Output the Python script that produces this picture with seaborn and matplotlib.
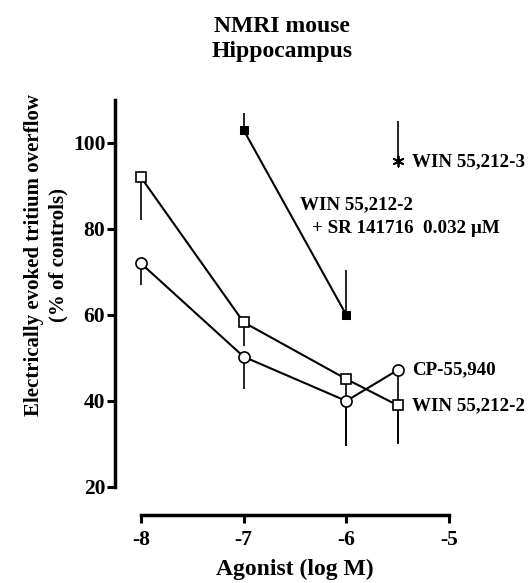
import matplotlib
matplotlib.use("Agg")
import matplotlib.pyplot as plt
import seaborn as sns
import pandas as pd

sns.set_theme(style="white")
plt.rcParams['font.family'] = ['Liberation Serif', 'DejaVu Serif']
plt.rcParams['font.weight'] = 'bold'
for k in ['text.color', 'axes.labelcolor', 'xtick.color', 'ytick.color']:
    plt.rcParams[k] = 'black'

# Data
x_win = [-8, -7, -6, -5.5]
y_win = [92, 58.3, 45.1, 39]
err_win = [10, 5.5, 15.5, 9]          # downward

x_cp = [-8, -7, -6, -5.5]
y_cp = [72, 50.3, 40, 47.2]
err_cp = [5, 7.5, 10.5, 17]           # downward

x_sr = [-7, -6]
y_sr = [103, 60]
err_sr = [4, 10.5]                    # upward

x_w3 = [-5.5]
y_w3 = [95.7]
err_w3 = [9.5]                        # upward

xticks = [-8, -7, -6, -5]
yticks = [20, 40, 60, 80, 100]

df = pd.concat([
    pd.DataFrame({'x': x_win, 'y': y_win, 'series': 'WIN 55,212-2'}),
    pd.DataFrame({'x': x_cp, 'y': y_cp, 'series': 'CP-55,940'}),
    pd.DataFrame({'x': x_sr, 'y': y_sr, 'series': 'WIN+SR'}),
])

W, H = 532, 583
fig = plt.figure(figsize=(W / 100, H / 100), dpi=100)
ax = fig.add_axes([141 / W, 1 - 487 / H, 308 / W, 387 / H])

lw = 1.5
ax.errorbar(x_win, y_win, yerr=[err_win, [0] * 4], fmt='none', ecolor='black', elinewidth=1.2, capsize=0, zorder=1)
ax.errorbar(x_cp, y_cp, yerr=[err_cp, [0] * 4], fmt='none', ecolor='black', elinewidth=1.2, capsize=0, zorder=1)
ax.errorbar(x_sr, y_sr, yerr=[[0] * 2, err_sr], fmt='none', ecolor='black', elinewidth=1.2, capsize=0, zorder=1)
ax.errorbar(x_w3, y_w3, yerr=[[0], err_w3], fmt='none', ecolor='black', elinewidth=1.2, capsize=0, zorder=1)

sns.lineplot(data=df[df.series == 'WIN 55,212-2'], x='x', y='y', ax=ax, color='black', lw=lw,
             marker='s', markersize=7, markerfacecolor='white', markeredgecolor='black',
             markeredgewidth=1.2, estimator=None, sort=False, zorder=3)
sns.lineplot(data=df[df.series == 'CP-55,940'], x='x', y='y', ax=ax, color='black', lw=lw,
             marker='o', markersize=8, markerfacecolor='white', markeredgecolor='black',
             markeredgewidth=1.2, estimator=None, sort=False, zorder=2)
sns.lineplot(data=df[df.series == 'WIN+SR'], x='x', y='y', ax=ax, color='black', lw=lw,
             marker='s', markersize=6, markerfacecolor='black', markeredgecolor='black',
             estimator=None, sort=False, zorder=3)
sns.scatterplot(x=x_w3, y=y_w3, ax=ax, marker=(6, 2, 0), s=55, color='black', linewidth=1.3, zorder=4)

for a in ax.lines + ax.collections:
    a.set_clip_on(False)

ax.set_xlim(-8, -5)
ax.set_ylim(20, 110)
ax.set_xticks(xticks)
ax.set_yticks(yticks)
ax.set_xticklabels([str(t) for t in xticks])
ax.set_yticklabels([str(t) for t in yticks])

for s in ['top', 'right']:
    ax.spines[s].set_visible(False)
ax.spines['left'].set_position(('outward', 18.7))
ax.spines['bottom'].set_position(('outward', 20.2))
ax.spines['left'].set_bounds(20, 110)
ax.spines['bottom'].set_bounds(-8, -5)
for s in ['left', 'bottom']:
    ax.spines[s].set_linewidth(2.5)
    ax.spines[s].set_color('black')
ax.tick_params(axis='both', direction='out', length=6, width=2.2, color='black',
               labelsize=15.5, bottom=True, left=True)
ax.tick_params(axis='x', pad=5)
ax.tick_params(axis='y', pad=1)
for lbl in ax.get_xticklabels() + ax.get_yticklabels():
    lbl.set_fontweight('bold')

ax.set_xlabel('Agonist (log M)', fontsize=17, fontweight='bold')
ax.set_ylabel('Electrically evoked tritium overflow\n(% of controls)', fontsize=15,
              fontweight='bold', linespacing=1.3)
ax.xaxis.set_label_coords(0.5, -0.185)
ax.yaxis.set_label_coords(-0.235, 0.60)

fig.text(282 / W, 1 - 39 / H, 'NMRI mouse\nHippocampus', ha='center', va='center',
         fontsize=17, fontweight='bold', linespacing=1.2)

fs = 13.7
ax.text(-5.5 + 0.14, 95.7, 'WIN 55,212-3', fontsize=fs, fontweight='bold', va='center', ha='left')
ax.text(-6.45, 85.6, 'WIN 55,212-2', fontsize=fs, fontweight='bold', va='center', ha='left')
ax.text(-6.33, 80.2, '+ SR 141716  0.032 µM', fontsize=fs, fontweight='bold', va='center', ha='left')
ax.text(-5.5 + 0.14, 47.2, 'CP-55,940', fontsize=fs, fontweight='bold', va='center', ha='left')
ax.text(-5.5 + 0.14, 39, 'WIN 55,212-2', fontsize=fs, fontweight='bold', va='center', ha='left')

fig.savefig('out.png', dpi=100, facecolor='white')
